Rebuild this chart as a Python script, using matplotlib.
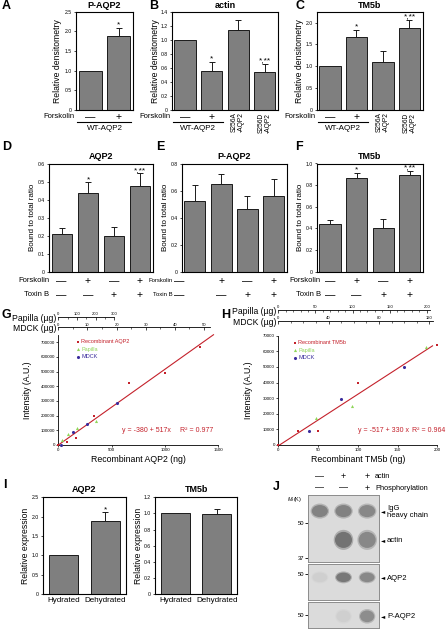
import numpy as np
import matplotlib
matplotlib.use("Agg")
import matplotlib.pyplot as plt
from matplotlib.transforms import blended_transform_factory
from matplotlib.patches import Ellipse
from matplotlib.ticker import MultipleLocator, FuncFormatter

plt.rcParams['font.family'] = ['Liberation Sans', 'DejaVu Sans']
plt.rcParams['mathtext.fontset'] = 'custom'
plt.rcParams['mathtext.rm'] = 'Liberation Sans'
plt.rcParams['mathtext.it'] = 'Liberation Sans:italic'
plt.rcParams['axes.linewidth'] = 0.8

# ---- data ----
# A-C densitometry
a_vals = [1.0, 1.87]
a_err = [0.0, 0.21]
a_stars = ['', '*']
b_vals = [1.0, 0.56, 1.14, 0.54]
b_err = [0.0, 0.12, 0.14, 0.12]
b_stars = ['', '*', '', '*,**']
c_vals = [1.0, 1.66, 1.11, 1.87]
c_err = [0.0, 0.18, 0.24, 0.20]
c_stars = ['', '*', '', '*,**']
mutants = ['S256A\n-AQP2', 'S256D\n-AQP2']

# D-F bound to total ratio
d_vals = [0.21, 0.435, 0.20, 0.475]
d_err = [0.035, 0.06, 0.05, 0.07]
d_stars = ['', '*', '', '*,**']
e_vals = [0.52, 0.65, 0.46, 0.56]
e_err = [0.12, 0.07, 0.10, 0.125]
e_stars = ['', '', '', '']
f_vals = [0.44, 0.865, 0.40, 0.89]
f_err = [0.035, 0.05, 0.085, 0.045]
f_stars = ['', '*', '', '*,**']
forskolin = ['—', '+', '—', '+']
toxin_b = ['—', '—', '+', '+']

# G standard curve AQP2
g_rec_x = [0, 83, 166, 332, 664, 1000, 1328]
g_rec_y = [0, 20000, 50000, 198000, 420000, 492000, 665000]
g_pap_x = [31, 87, 178, 353]
g_pap_y = [34000, 73000, 114000, 166000]
g_mdck_x = [25, 134, 272, 547]
g_mdck_y = [0, 91000, 141000, 284000]
g_fit = (-380, 517)

# H standard curve TM5b
h_rec_x = [0, 25, 50, 100, 200]
h_rec_y = [0, 9000, 9000, 39700, 64000]
h_pap_x = [47, 93, 186]
h_pap_y = [17500, 25000, 62500]
h_mdck_x = [39, 79, 158]
h_mdck_y = [9000, 29500, 50000]
h_fit = (-517, 330)

# I relative expression
conditions = ['Hydrated', 'Dehydrated']
i_aqp2 = [1.0, 1.88]
i_aqp2_err = [0.0, 0.23]
i_tm5b = [1.0, 0.99]
i_tm5b_err = [0.0, 0.07]

# J gel band intensities per lane
j_actin_row = ['—', '+', '+']
j_phos_row = ['—', '—', '+']
j_igg = [0.85, 0.85, 0.8]
j_actin = [0.0, 1.0, 0.8]
j_aqp2 = [0.12, 0.95, 0.8]
j_paqp2 = [0.0, 0.12, 0.75]

BAR = '#7f7f7f'
RED = '#c4212b'
GREEN = '#8fd65a'
PURPLE = '#3a2c9c'

W, H = 448, 638
fig = plt.figure(figsize=(W / 100, H / 100), dpi=100)


def box(l, t, r, b):
    return [l / W, 1 - b / H, (r - l) / W, (b - t) / H]


def fx(x):
    return x / W


def fy(y):
    return 1 - y / H


def fmt_tick(v, pos):
    return '0' if abs(v) < 1e-9 else f'{v:.1f}'


def letter(x, y, s):
    fig.text(fx(x), fy(y), s, ha='left', va='center', fontsize=9, fontweight='bold')


def bar_axes(rect, vals, errs, ymax, step, width=0.8):
    ax = fig.add_axes(box(*rect))
    vals = np.asarray(vals)
    errs = np.asarray(errs)
    x = np.arange(len(vals))
    ax.bar(x, vals, width=width, color=BAR, edgecolor='#1a1a1a', linewidth=0.7, zorder=2)
    m = errs > 0
    ax.errorbar(x[m], vals[m], yerr=[np.zeros(m.sum()), errs[m]], fmt='none',
                ecolor='#1a1a1a', elinewidth=0.7, capsize=2.5, capthick=0.7, zorder=1)
    ax.set_xlim(-0.5, len(vals) - 0.5)
    ax.set_ylim(0, ymax)
    ax.yaxis.set_major_locator(MultipleLocator(step))
    ax.yaxis.set_major_formatter(FuncFormatter(fmt_tick))
    ax.set_xticks([])
    ax.tick_params(axis='y', labelsize=3.7, length=1.8, width=0.5, pad=1)
    return ax


def add_stars(ax, vals, errs, stars):
    for i, s in enumerate(stars):
        if s:
            ax.annotate(s, (i, vals[i] + errs[i]), xytext=(0, 1), textcoords='offset points',
                        ha='center', va='baseline', fontsize=6, annotation_clip=False)


def titles(rect, title, ty, ylabel, yx, yfs=6.2):
    l, t, r, b = rect
    fig.text(fx((l + r) / 2), fy(ty), title, ha='center', va='center', fontsize=6.5, fontweight='bold')
    fig.text(fx(yx), fy((t + b) / 2), ylabel, rotation=90, ha='center', va='center', fontsize=yfs)


def sign_row(ax, y, label, signs, label_x, first_x=None, fs=5.5):
    trans = blended_transform_factory(ax.transData, fig.transFigure)
    fig.text(fx(label_x), fy(y), label, ha='right', va='center', fontsize=fs)
    for i, s in enumerate(signs):
        if i == 0 and first_x is not None:
            fig.text(fx(first_x), fy(y), s, ha='center', va='center', fontsize=7.5)
        else:
            ax.text(i, fy(y), s, transform=trans, ha='center', va='center', fontsize=7.5)


def wt_group(ax):
    trans = blended_transform_factory(ax.transData, fig.transFigure)
    ax.plot([-0.45, 1.42], [fy(122), fy(122)], color='k', lw=0.8, transform=trans, clip_on=False)
    ax.text(0.5, fy(128.5), 'WT-AQP2', transform=trans, ha='center', va='center', fontsize=5.8)


def mutant_labels(ax):
    trans = blended_transform_factory(ax.transData, fig.transFigure)
    for i, s in enumerate(mutants):
        ax.text(2 + i, fy(112.5), s, transform=trans, rotation=90, ha='center', va='top',
                fontsize=4.8, linespacing=1.0)


# ---- A ----
ra = (76, 11.7, 133, 110)
ax = bar_axes(ra, a_vals, a_err, 2.5, 0.5)
add_stars(ax, a_vals, a_err, a_stars)
titles(ra, 'P-AQP2', 5, 'Relative densitometry', 57)
sign_row(ax, 117, 'Forskolin', ['—', '+'], 74)
wt_group(ax)
letter(2, 6, 'A')

# ---- B ----
rb = (171.7, 11.7, 278, 110)
ax = bar_axes(rb, b_vals, b_err, 1.4, 0.2)
add_stars(ax, b_vals, b_err, b_stars)
titles(rb, 'actin', 5, 'Relative densitometry', 155)
sign_row(ax, 117, 'Forskolin', ['—', '+'], 170)
wt_group(ax)
mutant_labels(ax)
letter(149, 6, 'B')

# ---- C ----
rc = (316.7, 11.7, 422.7, 110)
ax = bar_axes(rc, c_vals, c_err, 2.25, 0.5)
add_stars(ax, c_vals, c_err, c_stars)
titles(rc, 'TM5b', 5, 'Relative densitometry', 300)
sign_row(ax, 117, 'Forskolin', ['—', '+'], 315)
wt_group(ax)
mutant_labels(ax)
letter(295, 6, 'C')

# ---- D-F ----
panels_df = [
    ((49, 163.5, 153, 271.7), d_vals, d_err, d_stars, 0.6, 0.1, 'AQP2', 32, 49.5, 61, 5.5, 'D', 2),
    ((181.7, 163.5, 286.7, 271.7), e_vals, e_err, e_stars, 0.8, 0.2, 'P-AQP2', 165, 172.5, 179, 4.3, 'E', 156),
    ((316.7, 163.5, 423, 271.7), f_vals, f_err, f_stars, 1.0, 0.2, 'TM5b', 300, 321, None, 5.5, 'F', 295),
]
for rect, v, e, st, ymax, step, title, ylx, lab_x, first_x, lfs, let, let_x in panels_df:
    ax = bar_axes(rect, v, e, ymax, step)
    add_stars(ax, v, e, st)
    titles(rect, title, 156.5, 'Bound to total ratio', ylx, yfs=5.8)
    sign_row(ax, 281, 'Forskolin', forskolin, lab_x, first_x, fs=lfs)
    sign_row(ax, 295, 'Toxin B', toxin_b, lab_x, first_x, fs=lfs)
    letter(let_x, 147, let)


# ---- G, H ----
def curve_axes(rect, rx, ry, px, py, mx, my, fit, xmax, xstep, ymax, ystep, rec_name, xlabel,
               ylx, xly, eq, r2, eq_pos, r2_pos, leg_anchor):
    ax = fig.add_axes(box(*rect))
    ax.spines[['top', 'right']].set_visible(False)
    ax.spines[['left', 'bottom']].set_linewidth(0.6)
    xs = np.array([0, xmax * 0.97])
    ax.plot(xs, fit[0] + fit[1] * xs, color=RED, lw=0.8, zorder=1, clip_on=False)
    h1 = ax.scatter(rx, ry, marker='s', s=4, color=RED, lw=0, zorder=3, clip_on=False)
    h2 = ax.scatter(px, py, marker='^', s=5, color=GREEN, lw=0, zorder=3, clip_on=False)
    h3 = ax.scatter(mx, my, marker='o', s=5, color=PURPLE, lw=0, zorder=3, clip_on=False)
    ax.set_xlim(0, xmax)
    ax.set_ylim(0, ymax)
    ax.xaxis.set_major_locator(MultipleLocator(xstep))
    ax.yaxis.set_major_locator(MultipleLocator(ystep))
    ax.tick_params(labelsize=3.2, length=1.5, width=0.5, pad=1)
    leg = ax.legend([h1, h2, h3], [rec_name, 'Papilla', 'MDCK'], loc='upper left',
                    bbox_to_anchor=leg_anchor, frameon=False, fontsize=4, handletextpad=0.2,
                    labelspacing=0.45, handlelength=0.8, borderaxespad=0, borderpad=0,
                    markerscale=1.0)
    for t, c in zip(leg.get_texts(), [RED, GREEN, PURPLE]):
        t.set_color(c)
    ax.text(eq_pos[0], eq_pos[1], eq, transform=ax.transAxes, color=RED, fontsize=5, va='center')
    ax.text(r2_pos[0], r2_pos[1], r2, transform=ax.transAxes, color=RED, fontsize=5, va='center')
    l, t, r, b = rect
    fig.text(fx(ylx), fy((t + b) / 2), 'Intensity (A.U.)', rotation=90, ha='center', va='center', fontsize=6.3)
    fig.text(fx((l + r) / 2), fy(xly), xlabel, ha='center', va='center', fontsize=6.3)
    return ax


def top_scale(l, y, px_per_unit, xmax, major, minor, label):
    r = l + xmax * px_per_unit
    ax = fig.add_axes(box(l, y - 1, r, y))
    ax.patch.set_visible(False)
    for s in ['left', 'right', 'bottom']:
        ax.spines[s].set_visible(False)
    ax.spines['top'].set_linewidth(0.6)
    ax.set_xlim(0, xmax)
    ax.set_yticks([])
    ax.xaxis.tick_top()
    ax.xaxis.set_major_locator(MultipleLocator(major))
    ax.xaxis.set_minor_locator(MultipleLocator(minor))
    ax.tick_params(axis='x', which='major', labelsize=3.0, length=2.0, width=0.5, pad=0.5, direction='in')
    ax.tick_params(axis='x', which='minor', length=1.2, width=0.4, direction='in')
    fig.text(fx(l - 2), fy(y + 0.5), label, ha='right', va='center', fontsize=6.2)


rg = (58.3, 335, 218.3, 445)
curve_axes(rg, g_rec_x, g_rec_y, g_pap_x, g_pap_y, g_mdck_x, g_mdck_y, g_fit, 1500, 500,
           750000, 100000, 'Recombinant AQP2', 'Recombinant AQP2 (ng)', 28, 459,
           'y = -380 + 517x', 'R² = 0.977', (0.40, 0.135), (0.76, 0.135), (0.11, 0.96))
top_scale(58.3, 317.7, 56 / 300, 300, 100, 50, 'Papilla (µg)')
top_scale(58.3, 328.3, 145.7 / 50, 52, 10, 5, 'MDCK (µg)')
letter(1, 315, 'G')

rh = (278.3, 335.7, 437.3, 445)
curve_axes(rh, h_rec_x, h_rec_y, h_pap_x, h_pap_y, h_mdck_x, h_mdck_y, h_fit, 200, 50,
           70000, 10000, 'Recombinant TM5b', 'Recombinant TM5b (ng)', 248, 460,
           'y = -517 + 330 x', 'R² = 0.964', (0.50, 0.137), (0.84, 0.137), (0.09, 0.96))
top_scale(278.3, 311, 148.4 / 200, 204, 50, 10, 'Papilla (µg)')
top_scale(278.3, 321.7, 151 / 120, 123, 40, 10, 'MDCK (µg)')
letter(221, 315, 'H')

# ---- I ----
for rect, v, e, ymax, step, title, ylx in [
        ((42.7, 497.3, 126, 594), i_aqp2, i_aqp2_err, 2.5, 0.5, 'AQP2', 26),
        ((155, 497.3, 237.3, 594), i_tm5b, i_tm5b_err, 1.2, 0.2, 'TM5b', 138)]:
    ax = bar_axes(rect, v, e, ymax, step, width=0.7)
    add_stars(ax, v, e, ['', '*'] if title == 'AQP2' else ['', ''])
    ax.set_xticks([0, 1], conditions)
    ax.tick_params(axis='x', labelsize=5.8, length=0, pad=2)
    titles(rect, title, 489, 'Relative expression', ylx)
letter(3, 485, 'I')

# ---- J gel ----
letter(273, 487, 'J')
gel_l, gel_r = 308, 379
lane_px = (gel_r - gel_l) / 3
lane_x = [gel_l + lane_px * (i + 0.5) for i in range(3)]
for i in range(3):
    fig.text(fx(lane_x[i]), fy(477), j_actin_row[i], ha='center', va='center', fontsize=6.5)
    fig.text(fx(lane_x[i]), fy(488), j_phos_row[i], ha='center', va='center', fontsize=6.5)
fig.text(fx(375), fy(477), 'actin', ha='left', va='center', fontsize=5.3)
fig.text(fx(375), fy(488), 'Phosphorylation', ha='left', va='center', fontsize=5.3)
fig.text(fx(295), fy(499), r'$M_{\rm r}$(K)', ha='center', va='center', fontsize=4)

GEL_BG = np.array([0.86, 0.86, 0.86])
GEL_DARK = np.array([0.45, 0.45, 0.45])


def gel_panel(t, b, marks, mark_pos, bands):
    ax = fig.add_axes(box(gel_l, t, gel_r, b))
    ax.set_facecolor(GEL_BG)
    for s in ax.spines.values():
        s.set_color('#8c8c8c')
        s.set_linewidth(0.7)
    ax.set_xlim(0.5, 3.5)
    ax.set_ylim(0, 1)
    ax.set_xticks([])
    ax.set_yticks(mark_pos, marks)
    ax.tick_params(axis='y', labelsize=4.2, length=2, width=0.6, pad=0.8)
    for vals, yc, w, hgt in bands:
        for i, v in enumerate(vals):
            if v <= 0:
                continue
            col = GEL_BG + (GEL_DARK - GEL_BG) * v
            halo = GEL_BG + (GEL_DARK - GEL_BG) * v * 0.45
            ax.add_patch(Ellipse((i + 1, yc), w * 1.15, hgt * 1.25, color=halo, lw=0))
            ax.add_patch(Ellipse((i + 1, yc), w, hgt, color=col, lw=0))
    return ax


gel_panel(495, 562, ['50', '37'], [0.58, 0.06],
          [(j_igg, 0.76, 0.68, 0.18), (j_actin, 0.33, 0.72, 0.24)])
gel_panel(563.5, 600, ['50'], [0.71], [(j_aqp2, 0.62, 0.62, 0.26)])
gel_panel(602, 628, ['50'], [0.5], [(j_paqp2, 0.45, 0.6, 0.45)])

arrow_fam = ['DejaVu Sans']
for y, s in [(512, 'IgG\nheavy chain'), (541, 'actin'), (578, 'AQP2'), (617, 'P-AQP2')]:
    fig.text(fx(381), fy(y), '◄', ha='left', va='center', fontsize=4, family=arrow_fam)
    fig.text(fx(387), fy(y), s, ha='left', va='center', fontsize=5.5, linespacing=1.0)

fig.savefig('out.png', dpi=100)
